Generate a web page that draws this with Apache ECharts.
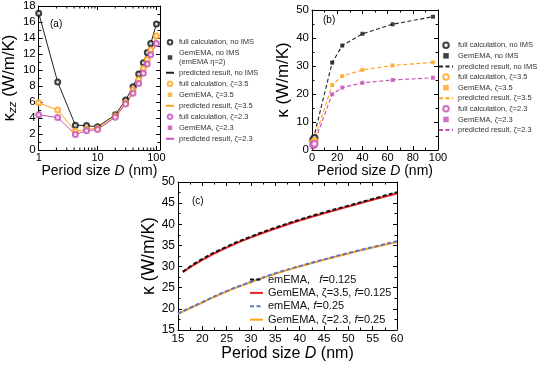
<!DOCTYPE html>
<html><head><meta charset="utf-8">
<script src="https://cdn.jsdelivr.net/npm/echarts@6/dist/echarts.min.js"></script>
<style>html,body{margin:0;padding:0;background:#fff}#c{width:550px;height:366px}</style>
</head><body><div id="c"></div>
<script>
// ---------- Panel (a): kappa_zz vs period size (log x) ----------
const periodA = [1, 2.1, 4.2, 6.5, 10, 20, 30, 40, 50, 60, 70, 80, 100];
const fullNoIMS_A = [17.1, 8.5, 3.1, 3.05, 2.9, 4.4, 6.25, 7.9, 9.5, 10.9, 12.2, 13.3, 15.75];
const gemNoIMS_A  = [17.1, 8.5, 3.1, 3.05, 2.9, 4.4, 6.25, 7.9, 9.5, 10.9, 12.2, 13.3, 15.75];
const predNoIMS_A = [17.1, 8.5, 3.1, 3.05, 2.9, 4.4, 6.25, 7.9, 9.5, 10.9, 12.2, 13.3, 15.75];
const full35_A = [5.9, 5.0, 2.35, 2.6, 2.7, 4.25, 5.9, 7.5, 8.8, 10.2, 11.3, 12.5, 14.25];
const gem35_A  = [5.9, 5.0, 2.35, 2.6, 2.7, 4.25, 5.9, 7.5, 8.8, 10.2, 11.3, 12.5, 14.25];
const pred35_A = [5.9, 5.0, 2.35, 2.6, 2.7, 4.25, 5.9, 7.5, 8.8, 10.2, 11.3, 12.5, 14.25];
const full23_A = [4.4, 4.05, 1.95, 2.4, 2.55, 4.1, 5.75, 7.1, 8.3, 9.6, 10.75, 11.9, 13.3];
const gem23_A  = [4.4, 4.05, 1.95, 2.4, 2.55, 4.1, 5.75, 7.1, 8.3, 9.6, 10.75, 11.9, 13.3];
const pred23_A = [4.4, 4.05, 1.95, 2.4, 2.55, 4.1, 5.75, 7.1, 8.3, 9.6, 10.75, 11.9, 13.3];
const logMinorTicksA = [2, 3, 4, 5, 6, 7, 8, 9, 20, 30, 40, 50, 60, 70, 80, 90];

// ---------- Panel (b): kappa vs period size (linear x) ----------
const periodB = [1, 2, 16, 24, 40, 64, 96];
const periodB_full = [1, 2];
const fullNoIMS_B = [3.6, 4.3];
const gemNoIMS_B  = [3.8, 4.5, 31.2, 37.3, 41.5, 44.9, 47.6];
const full35_B = [2.6, 3.1];
const gem35_B  = [2.6, 3.1, 23.2, 26.4, 28.6, 30.2, 31.3];
const full23_B = [1.7, 2.2];
const gem23_B  = [1.7, 2.2, 19.9, 22.3, 24.0, 25.0, 25.8];

// ---------- Panel (c): emEMA vs GemEMA ----------
const periodC_hi = [16, 20, 25, 30, 35, 40, 45, 50, 55, 60];
const emEMA_0125  = [28.8, 31.8, 34.7, 37.1, 39.2, 41.1, 42.8, 44.4, 46.0, 47.6];
const gemEMA_0125 = [28.7, 31.6, 34.5, 36.9, 39.0, 40.9, 42.6, 44.2, 45.8, 47.3];
const periodC_lo = [15, 20, 25, 30, 35, 40, 45, 50, 55, 60];
const emEMA_025  = [18.9, 21.6, 24.2, 26.4, 28.4, 30.1, 31.7, 33.2, 34.6, 36.0];
const gemEMA_025 = [18.8, 21.5, 24.1, 26.3, 28.3, 30.0, 31.6, 33.1, 34.5, 35.8];

const FONT = 'Liberation Sans';
const BLACK = '#111', ORANGE = '#FFA31A', MAGENTA = '#C64DB6';
const SQUARE = 'path://M0,0L10,0L10,10L0,10Z';
const zip = (xs, ys) => xs.map((x, i) => [x, ys[i]]);

function frameAxisCommon() {
  return {
    axisLine: { onZero: false, lineStyle: { color: '#000', width: 1 } },
    axisTick: { inside: true, length: 4, lineStyle: { color: '#000' } },
    minorTick: { show: true, splitNumber: 2, length: 2.5, lineStyle: { color: '#000' } },
    splitLine: { show: false }, minorSplitLine: { show: false }
  };
}
function valAxis(extra) {
  return Object.assign(frameAxisCommon(), {
    type: 'value',
    axisLabel: { color: '#000', fontFamily: FONT, fontSize: 11.5, margin: 3 }
  }, extra);
}
function mirror(base) {
  const m = Object.assign({}, base);
  m.axisLabel = { show: false };
  m.name = '';
  return m;
}
const titleStyle = { fontFamily: FONT, fontSize: 14, color: '#000', rich: { i: { fontFamily: FONT, fontSize: 14, fontStyle: 'italic', color: '#000' } } };

// Axes (a)
const xA = Object.assign(frameAxisCommon(), {
  type: 'log', logBase: 10, min: 1, max: 115, position: 'bottom',
  minorTick: { show: false },
  axisLabel: { color: '#000', fontFamily: FONT, fontSize: 11, margin: 2,
    formatter: v => ([1, 10, 100].indexOf(Math.round(v * 1000) / 1000) >= 0 ? String(Math.round(v)) : '') },
  name: 'Period size {i|D} (nm)', nameLocation: 'middle', nameGap: 11, nameTextStyle: titleStyle
});
const yA = valAxis({ min: 0, max: 18, interval: 2, position: 'left',
  name: '{k|κ}{s|zz} (W/m/K)', nameLocation: 'middle', nameGap: 17,
  nameTextStyle: { fontFamily: FONT, fontSize: 17, color: '#000',
    rich: { k: { fontFamily: FONT, fontSize: 17, color: '#000' },
            s: { fontFamily: FONT, fontSize: 11.5, fontStyle: 'italic', color: '#000', padding: [7, 0, 0, 0] } } } });
// Axes (b)
const xB = valAxis({ min: 0, max: 100, interval: 20, position: 'bottom',
  axisLabel: { color: '#000', fontFamily: FONT, fontSize: 11, margin: 2 },
  name: 'Period size {i|D} (nm)', nameLocation: 'middle', nameGap: 11, nameTextStyle: titleStyle });
const yB = valAxis({ min: 0, max: 50, interval: 10, position: 'left',
  name: 'κ (W/m/K)', nameLocation: 'middle', nameGap: 19,
  nameTextStyle: { fontFamily: FONT, fontSize: 17, color: '#000' } });
// Axes (c)
const xC = valAxis({ min: 15, max: 60, interval: 5, position: 'bottom',
  axisLabel: { color: '#000', fontFamily: FONT, fontSize: 11.5, margin: 3 },
  name: 'Period size {i|D} (nm)', nameLocation: 'middle', nameGap: 12,
  nameTextStyle: { fontFamily: FONT, fontSize: 16, color: '#000', rich: { i: { fontFamily: FONT, fontSize: 16, fontStyle: 'italic', color: '#000' } } } });
const yC = valAxis({ min: 15, max: 50, interval: 5, position: 'left',
  axisLabel: { color: '#000', fontFamily: FONT, fontSize: 12, margin: 3 },
  name: 'κ (W/m/K)', nameLocation: 'middle', nameGap: 17,
  nameTextStyle: { fontFamily: FONT, fontSize: 17.5, color: '#000' } });

const xAxes = [xA, xB, xC,
  Object.assign(mirror(xA), { position: 'top' }),
  Object.assign(mirror(xB), { position: 'top' }),
  Object.assign(mirror(xC), { position: 'top' })];
const yAxes = [yA, yB, yC,
  Object.assign(mirror(yA), { position: 'right' }),
  Object.assign(mirror(yB), { position: 'right' }),
  Object.assign(mirror(yC), { position: 'right' })];
xAxes.forEach((a, i) => { a.gridIndex = i % 3; });
yAxes.forEach((a, i) => { a.gridIndex = i % 3; });

function lineS(name, xi, yi, data, color, width, dashed, smooth) {
  return { type: 'line', name, xAxisIndex: xi, yAxisIndex: yi, data, symbol: 'none', smooth: !!smooth,
    lineStyle: { color, width, type: dashed ? [4, 2.5] : 'solid' },
    itemStyle: { color: 'rgba(0,0,0,0)', borderWidth: 0 }, z: 2, silent: true };
}
function scat(name, xi, yi, data, color, symbol, size) {
  const s = { type: 'scatter', name, xAxisIndex: xi, yAxisIndex: yi, data, symbol, symbolSize: size,
    symbolKeepAspect: true, z: 4, silent: true };
  s.itemStyle = symbol === 'emptyCircle' ? { color, borderColor: color, borderWidth: 1 } : { color };
  return s;
}

const S = [];
// minor log ticks for panel (a), positioned through the log axis
S.push({ type: 'custom', xAxisIndex: 0, yAxisIndex: 0, silent: true, z: 6,
  data: logMinorTicksA.map(v => [v, 0]),
  renderItem: (p, api) => {
    const v = api.value(0);
    const b = api.coord([v, 0]), t = api.coord([v, 18]);
    return { type: 'group', children: [
      { type: 'line', shape: { x1: b[0], y1: b[1], x2: b[0], y2: b[1] - 2.5 }, style: { stroke: '#000', lineWidth: 1 } },
      { type: 'line', shape: { x1: t[0], y1: t[1], x2: t[0], y2: t[1] + 2.5 }, style: { stroke: '#000', lineWidth: 1 } }
    ] };
  } });
// (a)
S.push(lineS('predicted result, no IMS', 0, 0, zip(periodA, predNoIMS_A), '#222', 1));
S.push(lineS('predicted result, ζ=3.5', 0, 0, zip(periodA, pred35_A), ORANGE, 1));
S.push(lineS('predicted result, ζ=2.3', 0, 0, zip(periodA, pred23_A), MAGENTA, 1));
S.push(scat('GemEMA, no IMS\n(emEMA η=2)', 0, 0, zip(periodA, gemNoIMS_A), BLACK, SQUARE, 3.5));
S.push(scat('GemEMA, ζ=3.5', 0, 0, zip(periodA, gem35_A), ORANGE, SQUARE, 3.5));
S.push(scat('GemEMA, ζ=2.3', 0, 0, zip(periodA, gem23_A), MAGENTA, SQUARE, 3.5));
S.push(scat('full calculation, no IMS', 0, 0, zip(periodA, fullNoIMS_A), BLACK, 'emptyCircle', 5));
S.push(scat('full calculation, ζ=3.5', 0, 0, zip(periodA, full35_A), ORANGE, 'emptyCircle', 5));
S.push(scat('full calculation, ζ=2.3', 0, 0, zip(periodA, full23_A), MAGENTA, 'emptyCircle', 5));
// (b)  (trailing space keeps legend entries separate from panel a)
S.push(lineS('predicted result, no IMS ', 1, 1, zip(periodB, gemNoIMS_B), '#222', 1.1, true));
S.push(lineS('predicted result, ζ=3.5 ', 1, 1, zip(periodB, gem35_B), ORANGE, 1.1, true));
S.push(lineS('predicted result, ζ=2.3 ', 1, 1, zip(periodB, gem23_B), MAGENTA, 1.1, true));
S.push(scat('GemEMA, no IMS ', 1, 1, zip(periodB, gemNoIMS_B), BLACK, SQUARE, 4));
S.push(scat('GemEMA, ζ=3.5 ', 1, 1, zip(periodB, gem35_B), ORANGE, SQUARE, 4));
S.push(scat('GemEMA, ζ=2.3 ', 1, 1, zip(periodB, gem23_B), MAGENTA, SQUARE, 4));
S.push(scat('full calculation, no IMS ', 1, 1, zip(periodB_full, fullNoIMS_B), BLACK, 'emptyCircle', 6));
S.push(scat('full calculation, ζ=3.5 ', 1, 1, zip(periodB_full, full35_B), ORANGE, 'emptyCircle', 6));
S.push(scat('full calculation, ζ=2.3 ', 1, 1, zip(periodB_full, full23_B), MAGENTA, 'emptyCircle', 6));
// (c)
S.push(lineS('GemEMA, ζ=3.5, f=0.125', 2, 2, zip(periodC_hi, gemEMA_0125), '#E8232A', 2, false, true));
S.push(lineS('emEMA,   f=0.125', 2, 2, zip(periodC_hi, emEMA_0125), '#111', 2, true, true));
S.push(lineS('GemEMA, ζ=2.3, f=0.25', 2, 2, zip(periodC_lo, gemEMA_025), '#FFA31A', 2, false, true));
S.push(lineS('emEMA, f=0.25', 2, 2, zip(periodC_lo, emEMA_025), '#5B78C8', 2, true, true));

const legTxt = { fontFamily: FONT, fontSize: 7.5, color: '#333', lineHeight: 8.5 };
const option = {
  backgroundColor: '#fff',
  animation: false,
  title: [
    { text: '(a)', left: 50, top: 19, padding: 0, textStyle: { fontFamily: FONT, fontSize: 10, fontWeight: 'normal', color: '#000' } },
    { text: '(b)', left: 323, top: 15, padding: 0, textStyle: { fontFamily: FONT, fontSize: 10, fontWeight: 'normal', color: '#000' } },
    { text: '(c)', left: 192, top: 196, padding: 0, textStyle: { fontFamily: FONT, fontSize: 10, fontWeight: 'normal', color: '#000' } }
  ],
  grid: [
    { left: 38, top: 6, width: 122, height: 144 },
    { left: 312, top: 10, width: 126, height: 140 },
    { left: 178, top: 182, width: 219, height: 148 }
  ],
  xAxis: xAxes,
  yAxis: yAxes,
  legend: [
    { orient: 'vertical', left: 165, top: 38, padding: 0, itemGap: 2.5, itemWidth: 8, itemHeight: 4.5,
      textStyle: legTxt, selectedMode: false, symbolKeepAspect: true,
      data: ['full calculation, no IMS', 'GemEMA, no IMS\n(emEMA η=2)', 'predicted result, no IMS',
             'full calculation, ζ=3.5', 'GemEMA, ζ=3.5', 'predicted result, ζ=3.5',
             'full calculation, ζ=2.3', 'GemEMA, ζ=2.3', 'predicted result, ζ=2.3'] },
    { orient: 'vertical', left: 438, top: 41, padding: 0, itemGap: 2.1, itemWidth: 14, itemHeight: 5.5,
      textStyle: legTxt, selectedMode: false, symbolKeepAspect: true,
      data: ['full calculation, no IMS ', 'GemEMA, no IMS ', 'predicted result, no IMS ',
             'full calculation, ζ=3.5 ', 'GemEMA, ζ=3.5 ', 'predicted result, ζ=3.5 ',
             'full calculation, ζ=2.3 ', 'GemEMA, ζ=2.3 ', 'predicted result, ζ=2.3 '] },
    { orient: 'vertical', left: 249, top: 274, padding: 0, itemGap: 2.4, itemWidth: 13, itemHeight: 6,
      selectedMode: false,
      textStyle: { fontFamily: FONT, fontSize: 11, color: '#111', rich: { i: { fontFamily: FONT, fontSize: 11, fontStyle: 'italic', color: '#111' } } },
      formatter: n => n.replace('f=', '{i|f}='),
      data: ['emEMA,   f=0.125', 'GemEMA, ζ=3.5, f=0.125', 'emEMA, f=0.25', 'GemEMA, ζ=2.3, f=0.25'] }
  ],
  series: S
};
const chart = echarts.init(document.getElementById('c'), null, { renderer: 'canvas' });
chart.setOption(option);
</script>
</body></html>
